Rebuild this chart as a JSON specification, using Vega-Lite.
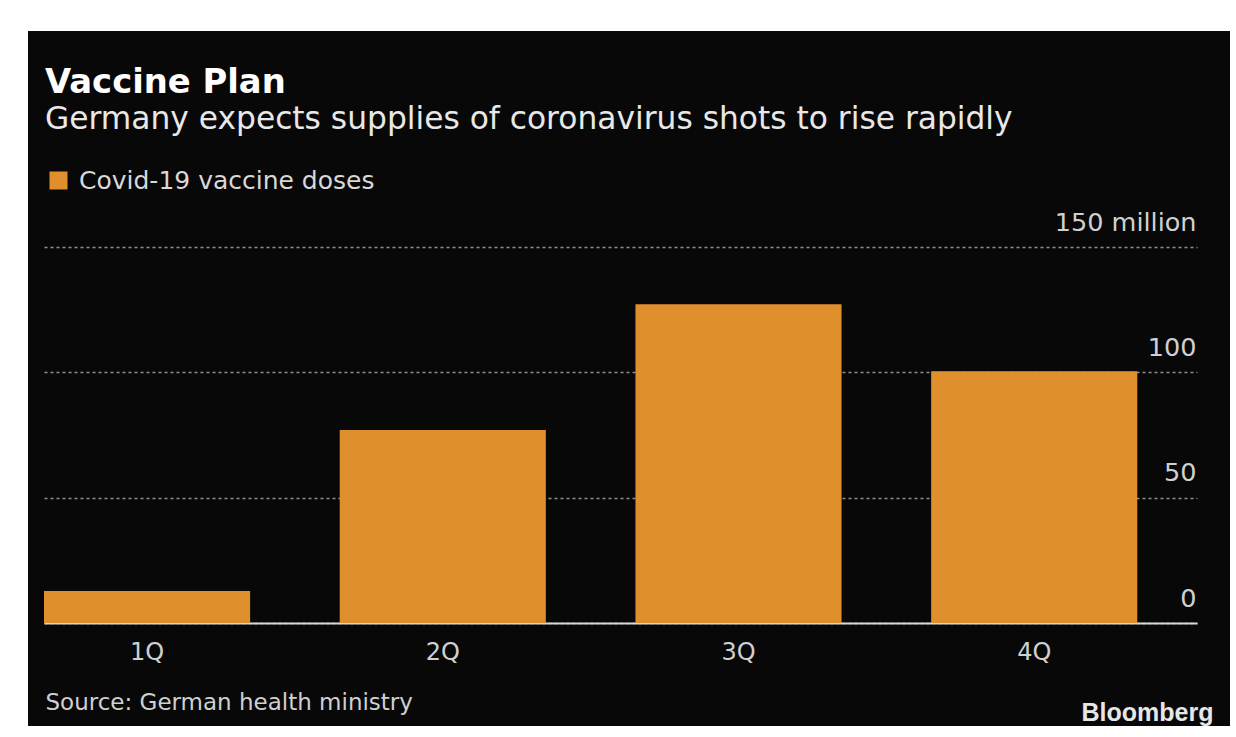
{
  "$schema": "https://vega.github.io/schema/vega-lite/v6.json",
  "width": 1202,
  "height": 695,
  "autosize": {"type": "none"},
  "padding": {"left": 28, "top": 31, "right": 6, "bottom": 11},
  "background": "#ffffff",
  "config": {
    "view": {"fill": "#080808", "stroke": null},
    "font": "DejaVu Sans"
  },
  "title": {
    "text": "Vaccine Plan",
    "subtitle": "Germany expects supplies of coronavirus shots to rise rapidly",
    "anchor": "start",
    "frame": "group",
    "orient": "top",
    "offset": -104,
    "dx": 17,
    "font": "DejaVu Sans",
    "fontSize": 33.8,
    "fontWeight": "bold",
    "color": "#ffffff",
    "subtitleFont": "DejaVu Sans",
    "subtitleFontSize": 31.3,
    "subtitleColor": "#e8e8e8",
    "subtitlePadding": 4
  },
  "data": {
    "values": [
      {"quarter": "1Q", "doses": 12.8, "series": "Covid-19 vaccine doses"},
      {"quarter": "2Q", "doses": 77.0, "series": "Covid-19 vaccine doses"},
      {"quarter": "3Q", "doses": 127.2, "series": "Covid-19 vaccine doses"},
      {"quarter": "4Q", "doses": 100.4, "series": "Covid-19 vaccine doses"}
    ]
  },
  "mark": {"type": "bar"},
  "encoding": {
    "x": {
      "field": "quarter",
      "type": "nominal",
      "sort": null,
      "scale": {"range": [16, 1169], "paddingInner": 0.303, "paddingOuter": 0.101, "align": 0},
      "axis": {
        "orient": "bottom",
        "offset": -103,
        "domain": true,
        "domainColor": "#d8d8d8",
        "domainWidth": 2,
        "ticks": false,
        "labelAngle": 0,
        "labelFontSize": 24,
        "labelColor": "#d0d0d0",
        "labelPadding": 17,
        "title": "Source: German health ministry",
        "titleAnchor": "start",
        "titleAlign": "left",
        "titleX": 17,
        "titleY": 86,
        "titleBaseline": "alphabetic",
        "titleFontSize": 23,
        "titleFontWeight": "normal",
        "titleColor": "#d0d0d0"
      }
    },
    "y": {
      "field": "doses",
      "type": "quantitative",
      "scale": {"domain": [0, 150], "range": [592, 216], "nice": false, "zero": true},
      "axis": {
        "orient": "left",
        "values": [0, 50, 100, 150],
        "grid": true,
        "gridColor": "#909090",
        "gridDash": [3, 3],
        "gridWidth": 1.5,
        "domain": false,
        "ticks": false,
        "labelAlign": "right",
        "labelBaseline": "alphabetic",
        "labelPadding": -1168,
        "labelOffset": -17,
        "labelFlush": false,
        "labelFontSize": 25.5,
        "labelColor": "#d0d0d0",
        "labelExpr": "datum.value == 150 ? '150 million' : datum.label",
        "title": "Bloomberg",
        "titleAngle": 0,
        "titleAlign": "right",
        "titleBaseline": "alphabetic",
        "titleX": 1185,
        "titleY": 689,
        "titleFont": "Liberation Sans",
        "titleFontWeight": "bold",
        "titleFontSize": 25,
        "titleColor": "#e6e6e6"
      }
    },
    "color": {
      "field": "series",
      "type": "nominal",
      "scale": {"range": ["#e08f2d"]},
      "legend": {
        "title": null,
        "orient": "none",
        "legendX": 18,
        "legendY": 137,
        "symbolType": "square",
        "symbolSize": 324,
        "symbolStrokeWidth": 0,
        "symbolOpacity": 1,
        "labelFontSize": 25,
        "labelLimit": 0,
        "labelColor": "#d8d8d8",
        "labelOffset": 8,
        "padding": 0
      }
    }
  }
}
